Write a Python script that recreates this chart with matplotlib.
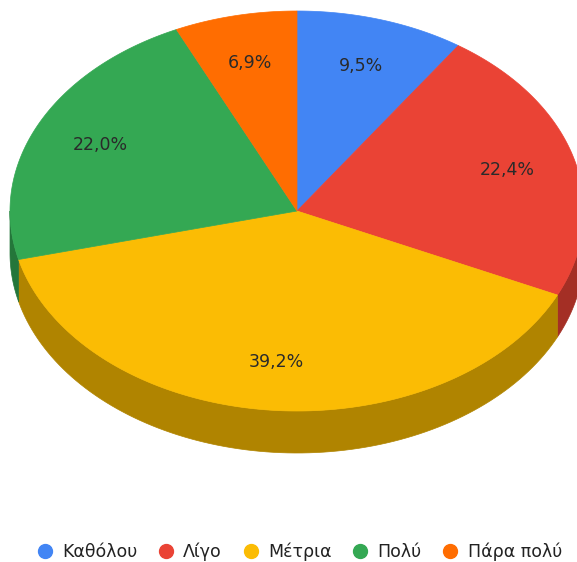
import numpy as np
import matplotlib.pyplot as plt
from matplotlib.patches import Polygon
from matplotlib.lines import Line2D

# ---- Data ----
labels = ["Καθόλου", "Λίγο", "Μέτρια", "Πολύ", "Πάρα πολύ"]
shares = [9.5, 22.4, 39.2, 22.0, 6.9]
top_colors = ["#4285F4", "#EA4335", "#FBBC04", "#34A853", "#FF6D01"]
side_colors = ["#2E5DAA", "#A42F25", "#B08400", "#24763A", "#B34C00"]

# ---- Geometry (pixel space) ----
W, H = 577, 562
cx, cy = 297, 211
rx, ry = 287, 200
depth = 42
label_r = 0.76


def pt(theta, r=1.0, dy=0.0):
    # theta: clockwise degrees from 12 o'clock
    t = np.radians(theta)
    return cx + r * rx * np.sin(t), cy - r * ry * np.cos(t) + dy


fig = plt.figure(figsize=(W / 100, H / 100), dpi=100)
ax = fig.add_axes([0, 0, 1, 1])
ax.set_xlim(0, W)
ax.set_ylim(H, 0)
ax.axis("off")

total = sum(shares)
bounds = np.concatenate([[0], np.cumsum(shares) / total * 360])

# side walls, only the front half (90..270) is visible
for i in range(len(shares)):
    a, b = max(bounds[i], 90), min(bounds[i + 1], 270)
    if b <= a:
        continue
    th = np.linspace(a, b, 100)
    top = [pt(t) for t in th]
    bot = [pt(t, dy=depth) for t in th[::-1]]
    ax.add_patch(Polygon(top + bot, closed=True, fc=side_colors[i], ec=side_colors[i], lw=0.5))

# top faces
for i in range(len(shares)):
    th = np.linspace(bounds[i], bounds[i + 1], 200)
    verts = [(cx, cy)] + [pt(t) for t in th]
    ax.add_patch(Polygon(verts, closed=True, fc=top_colors[i], ec=top_colors[i], lw=0.5))

    mid = (bounds[i] + bounds[i + 1]) / 2
    lx, ly = pt(mid, r=label_r)
    ax.text(lx, ly, f"{shares[i]:.1f}".replace(".", ",") + "%",
            ha="center", va="center", fontsize=12.5, color="#2a2a2a")

# ---- Legend ----
handles = [Line2D([], [], ls="", marker="o", ms=10, mfc=c, mec=c) for c in top_colors]
fig.legend(handles, labels, loc="center", bbox_to_anchor=(299 / W, 1 - 552 / H), ncol=5,
           frameon=False, fontsize=12.5, handletextpad=0.5, columnspacing=1.15,
           handlelength=1.0, labelcolor="#222222", borderpad=0, borderaxespad=0)

plt.savefig("out.png", dpi=100)
